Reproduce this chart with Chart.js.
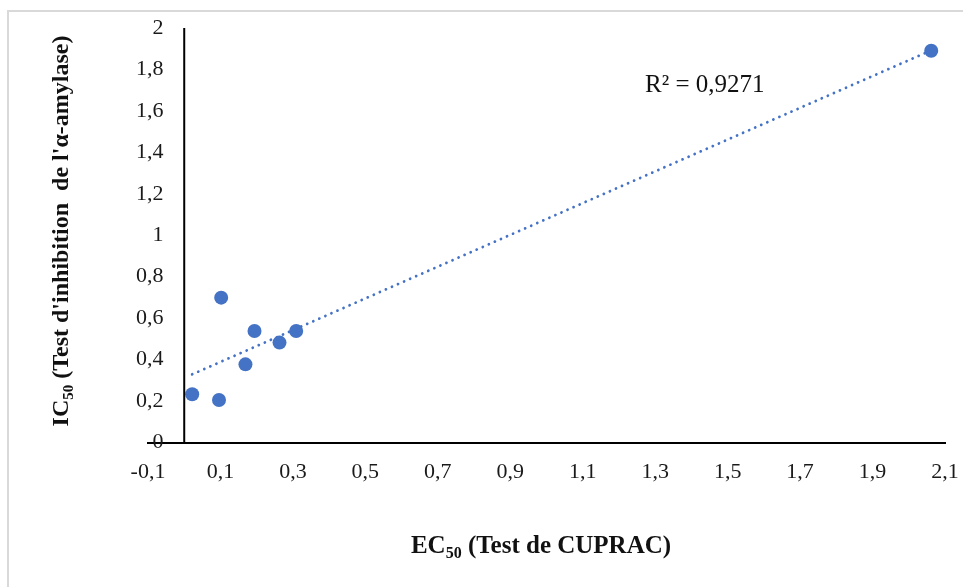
<!DOCTYPE html>
<html>
<head>
<meta charset="utf-8">
<script src="https://cdn.jsdelivr.net/npm/chart.js@4/dist/chart.umd.min.js"></script>
<style>
  html, body { margin: 0; padding: 0; background: #fff; }
  #wrap { width: 963px; height: 587px; position: relative; }
</style>
</head>
<body>
<div id="wrap"><canvas id="chart1" width="963" height="587"></canvas></div>
<script>
// EC50 (CUPRAC) vs IC50 (alpha-amylase inhibition)
const ec50 = [0.022, 0.096, 0.102, 0.169, 0.194, 0.263, 0.309, 2.062];
const ic50 = [0.233, 0.205, 0.699, 0.377, 0.538, 0.482, 0.538, 1.890];
const xRange = [-0.1, 2.1];
const yRange = [0, 2];
const tickStep = 0.2;
const r2Label = 'R\u00B2 = 0,9271';

const blue = '#4472C4';
const serif = '"Liberation Serif", "Times New Roman", serif';

// linear trendline (least squares) through the points
function trend(xs, ys) {
    const n = xs.length;
    const mx = xs.reduce((a, b) => a + b, 0) / n;
    const my = ys.reduce((a, b) => a + b, 0) / n;
    let sxy = 0, sxx = 0;
    for (let i = 0; i < n; i++) {
        sxy += (xs[i] - mx) * (ys[i] - my);
        sxx += (xs[i] - mx) * (xs[i] - mx);
    }
    const slope = sxy / sxx;
    const icpt = my - slope * mx;
    const x0 = Math.min(...xs), x1 = Math.max(...xs);
    return [{x: x0, y: icpt + slope * x0}, {x: x1, y: icpt + slope * x1}];
}

const fmt = v => {
    const r = Math.round(v * 10) / 10;
    return (Number.isInteger(r) ? String(r) : r.toFixed(1)).replace('.', ',');
};

// bold text with a "50" subscript after the first part
function subText(ctx, size, pre, sub, post, x, y) {
    const big = 'bold ' + size + 'px ' + serif;
    const small = 'bold ' + Math.round(size * 0.64) + 'px ' + serif;
    ctx.font = big; const w1 = ctx.measureText(pre).width;
    const w3 = ctx.measureText(post).width;
    ctx.font = small; const w2 = ctx.measureText(sub).width;
    const sx = x - (w1 + w2 + w3) / 2;
    ctx.textAlign = 'left';
    ctx.textBaseline = 'alphabetic';
    ctx.font = big; ctx.fillText(pre, sx, y);
    ctx.font = small; ctx.fillText(sub, sx + w1, y + size * 0.2);
    ctx.font = big; ctx.fillText(post, sx + w1 + w2, y);
}

const extras = {
    id: 'extras',
    afterDraw(chart) {
        const ctx = chart.ctx;
        const xs = chart.scales.x;
        const area = chart.chartArea;
        ctx.save();
        // frame (top and left edge visible)
        ctx.strokeStyle = '#d9d9d9';
        ctx.lineWidth = 2;
        ctx.beginPath();
        ctx.moveTo(8, 587); ctx.lineTo(8, 11); ctx.lineTo(963, 11);
        ctx.stroke();
        // vertical axis line at x = 0
        const x0 = xs.getPixelForValue(0);
        ctx.strokeStyle = '#000';
        ctx.lineWidth = 2;
        ctx.beginPath();
        ctx.moveTo(x0, area.top);
        ctx.lineTo(x0, area.bottom);
        ctx.stroke();
        // R² label
        ctx.fillStyle = '#111';
        ctx.font = '25px ' + serif;
        ctx.textAlign = 'left';
        ctx.textBaseline = 'alphabetic';
        ctx.fillText(r2Label, 645, 92);
        // axis titles
        subText(ctx, 25, 'EC', '50', ' (Test de CUPRAC)', 541, 553);
        ctx.translate(68, 231);
        ctx.rotate(-Math.PI / 2);
        subText(ctx, 24, 'IC', '50', " (Test d'inhibition  de l'\u03B1-amylase)", 0, 0);
        ctx.restore();
    }
};

const ctx = document.getElementById('chart1');
new Chart(ctx, {
    type: 'scatter',
    data: {
        datasets: [{
            label: 'points',
            data: ec50.map((x, i) => ({x: x, y: ic50[i]})),
            backgroundColor: blue,
            borderWidth: 0,
            pointRadius: 7,
            order: 1
        }, {
            label: 'trend',
            type: 'line',
            data: trend(ec50, ic50),
            borderColor: blue,
            borderWidth: 2.8,
            borderDash: [0.01, 6.6],
            borderCapStyle: 'round',
            pointRadius: 0,
            fill: false,
            order: 2
        }]
    },
    options: {
        responsive: false,
        animation: false,
        devicePixelRatio: 1,
        layout: { padding: { top: 28, right: 18, left: 0, bottom: 0 } },
        plugins: { legend: { display: false }, tooltip: { enabled: false } },
        scales: {
            x: {
                type: 'linear',
                min: xRange[0], max: xRange[1],
                grid: { display: false, drawTicks: false },
                border: { display: true, color: '#000', width: 2 },
                ticks: {
                    stepSize: tickStep,
                    padding: 17,
                    color: '#1a1a1a',
                    font: { family: serif, size: 22 },
                    maxRotation: 0,
                    autoSkip: false,
                    callback: v => fmt(v)
                },
                afterFit: s => { s.height = 144.5; s.paddingRight = 0; s.paddingLeft = 0; }
            },
            y: {
                type: 'linear',
                min: yRange[0], max: yRange[1],
                grid: { display: false, drawTicks: false },
                border: { display: false },
                ticks: {
                    stepSize: tickStep,
                    mirror: true,
                    crossAlign: 'far',
                    padding: -12,
                    color: '#1a1a1a',
                    font: { family: serif, size: 22 },
                    callback: v => fmt(v)
                },
                afterFit: s => { s.width = 148; }
            }
        }
    },
    plugins: [extras]
});
</script>
</body>
</html>
